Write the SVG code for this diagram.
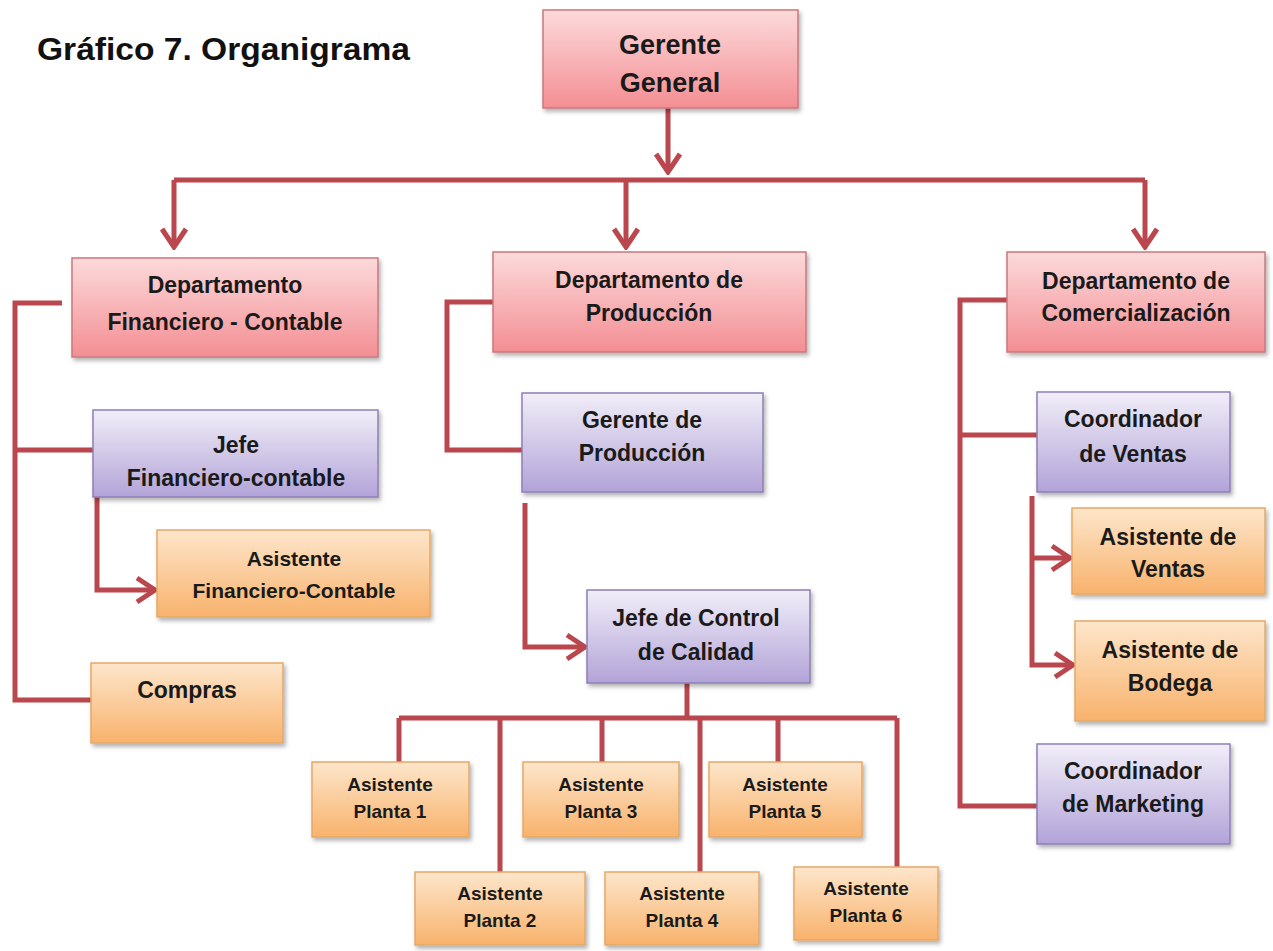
<svg xmlns="http://www.w3.org/2000/svg" width="1273" height="951" viewBox="0 0 1273 951">
<defs>
<linearGradient id="gPink" x1="0" y1="0" x2="0" y2="1"><stop offset="0" stop-color="#fcdadb"/><stop offset="1" stop-color="#f38e93"/></linearGradient>
<linearGradient id="gPurple" x1="0" y1="0" x2="0" y2="1"><stop offset="0" stop-color="#f1eef8"/><stop offset="1" stop-color="#b2a3d8"/></linearGradient>
<linearGradient id="gOrange" x1="0" y1="0" x2="0" y2="1"><stop offset="0" stop-color="#fde6cb"/><stop offset="1" stop-color="#f8b26c"/></linearGradient>
<filter id="sh" x="-10%" y="-10%" width="130%" height="140%"><feDropShadow dx="2" dy="3" stdDeviation="2" flood-color="#000" flood-opacity="0.3"/></filter>
<marker id="arr" viewBox="0 0 24 30" refX="21" refY="15" markerWidth="24" markerHeight="30" markerUnits="userSpaceOnUse" orient="auto"><path d="M3,3 L21,15 L3,27" fill="none" stroke="#b9474d" stroke-width="5" stroke-linejoin="miter"/></marker>
</defs>
<style>
.pink{fill:url(#gPink);stroke:#c9787c;stroke-width:1.5;filter:url(#sh)}
.purple{fill:url(#gPurple);stroke:#8e7fb4;stroke-width:1.5;filter:url(#sh)}
.orange{fill:url(#gOrange);stroke:#e6a866;stroke-width:1.5;filter:url(#sh)}
text{font-family:"Liberation Sans",Arial,sans-serif;font-weight:bold;fill:#1a1a1a;text-anchor:middle}
.t23{font-size:23px}
.t21{font-size:21px}
.t18{font-size:19px}
.con{fill:none;stroke:#b9474d;stroke-width:5;stroke-linejoin:miter}
</style>
<rect width="1273" height="951" fill="#ffffff"/>
<text x="37" y="60" style="font-size:32px;text-anchor:start;fill:#111" textLength="373" lengthAdjust="spacingAndGlyphs">Gráfico 7. Organigrama</text>

<g id="connectors">
<path class="con" d="M668,108 V172" marker-end="url(#arr)"/>
<path class="con" d="M174,180 H1145"/>
<path class="con" d="M174,180 V247" marker-end="url(#arr)"/>
<path class="con" d="M626,180 V247" marker-end="url(#arr)"/>
<path class="con" d="M1145,180 V247" marker-end="url(#arr)"/>
<path class="con" d="M62,303 H15 V700 H91"/>
<path class="con" d="M15,450 H93"/>
<path class="con" d="M97,497 V590 H155" marker-end="url(#arr)"/>
<path class="con" d="M493,302 H447 V450 H522"/>
<path class="con" d="M525,503 V647 H585" marker-end="url(#arr)"/>
<path class="con" d="M687,683 V718"/>
<path class="con" d="M399,718 H897"/>
<path class="con" d="M399,718 V762 M500,718 V872 M602,718 V762 M700,718 V872 M778,718 V762 M897,718 V867"/>
<path class="con" d="M1007,300 H960 V806 H1037"/>
<path class="con" d="M960,435 H1037"/>
<path class="con" d="M1032,496 V665 H1073" marker-end="url(#arr)"/>
<path class="con" d="M1032,558 H1070" marker-end="url(#arr)"/>
</g>

<g id="gerente-general"><rect class="pink" x="543" y="10" width="255" height="98"/><text x="670" y="54" style="font-size:27px">Gerente</text><text x="670" y="92" style="font-size:27px">General</text></g>
<g id="dept-financiero"><rect class="pink" x="72" y="258" width="306" height="99"/><text class="t23" x="225" y="293">Departamento</text><text class="t23" x="225" y="330">Financiero - Contable</text></g>
<g id="dept-produccion"><rect class="pink" x="493" y="252" width="313" height="100"/><text class="t23" x="649" y="288">Departamento de</text><text class="t23" x="649" y="321">Producción</text></g>
<g id="dept-comercializacion"><rect class="pink" x="1007" y="252" width="258" height="100"/><text class="t23" x="1136" y="289">Departamento de</text><text class="t23" x="1136" y="321">Comercialización</text></g>
<g id="jefe-financiero"><rect class="purple" x="93" y="410" width="285" height="87"/><text class="t23" x="236" y="453">Jefe</text><text class="t23" x="236" y="486">Financiero-contable</text></g>
<g id="asistente-financiero"><rect class="orange" x="157" y="530" width="273" height="87"/><text class="t21" x="294" y="566">Asistente</text><text class="t21" x="294" y="598">Financiero-Contable</text></g>
<g id="compras"><rect class="orange" x="91" y="663" width="192" height="80"/><text class="t23" x="187" y="698">Compras</text></g>
<g id="gerente-produccion"><rect class="purple" x="522" y="393" width="241" height="99"/><text class="t23" x="642" y="428">Gerente de</text><text class="t23" x="642" y="461">Producción</text></g>
<g id="jefe-control-calidad"><rect class="purple" x="587" y="590" width="223" height="93"/><text class="t23" x="696" y="626">Jefe de Control</text><text class="t23" x="696" y="660">de Calidad</text></g>
<g id="coordinador-ventas"><rect class="purple" x="1037" y="392" width="193" height="100"/><text class="t23" x="1133" y="427">Coordinador</text><text class="t23" x="1133" y="462">de Ventas</text></g>
<g id="asistente-ventas"><rect class="orange" x="1072" y="508" width="193" height="86"/><text class="t23" x="1168" y="545">Asistente de</text><text class="t23" x="1168" y="577">Ventas</text></g>
<g id="asistente-bodega"><rect class="orange" x="1075" y="621" width="190" height="100"/><text class="t23" x="1170" y="658">Asistente de</text><text class="t23" x="1170" y="691">Bodega</text></g>
<g id="coordinador-marketing"><rect class="purple" x="1037" y="744" width="193" height="100"/><text class="t23" x="1133" y="779">Coordinador</text><text class="t23" x="1133" y="812">de Marketing</text></g>
<g id="planta1"><rect class="orange" x="312" y="762" width="157" height="75"/><text class="t18" x="390" y="791">Asistente</text><text class="t18" x="390" y="818">Planta 1</text></g>
<g id="planta3"><rect class="orange" x="523" y="762" width="156" height="75"/><text class="t18" x="601" y="791">Asistente</text><text class="t18" x="601" y="818">Planta 3</text></g>
<g id="planta5"><rect class="orange" x="709" y="762" width="153" height="75"/><text class="t18" x="785" y="791">Asistente</text><text class="t18" x="785" y="818">Planta 5</text></g>
<g id="planta2"><rect class="orange" x="415" y="872" width="170" height="73"/><text class="t18" x="500" y="900">Asistente</text><text class="t18" x="500" y="927">Planta 2</text></g>
<g id="planta4"><rect class="orange" x="605" y="872" width="154" height="73"/><text class="t18" x="682" y="900">Asistente</text><text class="t18" x="682" y="927">Planta 4</text></g>
<g id="planta6"><rect class="orange" x="794" y="867" width="144" height="73"/><text class="t18" x="866" y="895">Asistente</text><text class="t18" x="866" y="922">Planta 6</text></g>
</svg>
